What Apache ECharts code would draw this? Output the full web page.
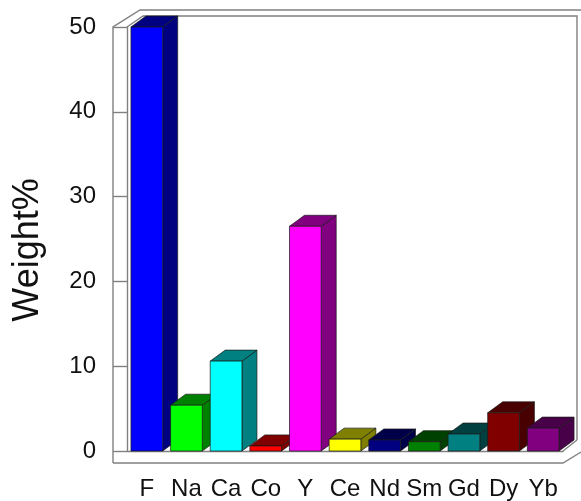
<!DOCTYPE html>
<html>
<head>
<meta charset="utf-8">
<script src="https://cdn.jsdelivr.net/npm/echarts@6/dist/echarts.min.js"></script>
<style>
  html, body { margin: 0; padding: 0; background: #fff; }
  #main { width: 581px; height: 501px; }
</style>
</head>
<body>
<div id="main"></div>
<script>
// data
var elements = ['F', 'Na', 'Ca', 'Co', 'Y', 'Ce', 'Nd', 'Sm', 'Gd', 'Dy', 'Yb'];
var weightPct = [50, 5.4, 10.6, 0.6, 26.5, 1.4, 1.3, 1.1, 2.0, 4.5, 2.7];
var yTicks = [0, 10, 20, 30, 40, 50];

// excel-like 3d palette (front face / side+top)
var frontColors = ['#0000ff', '#00ff00', '#00ffff', '#ff0000', '#ff00ff', '#ffff00',
  '#000080', '#008000', '#008080', '#800000', '#800080'];
var sideColors = ['#000080', '#008000', '#008080', '#800000', '#800080', '#808000',
  '#000048', '#004000', '#004040', '#480000', '#480048'];

var GL = 127, GR = 563, GT = 27, GB = 451;   // plot box
var DX = 15, DY = -11;                       // bar depth
var FRAME = '#808080';

var chartDom = document.getElementById('main');
var myChart = echarts.init(chartDom);
var option;

function renderBar(params, api) {
  var idx = api.value(0);
  var top = api.coord([idx, api.value(1)]);
  var base = api.coord([idx, 0]);
  var w = api.size([1, 0])[0] * 0.8;
  var x0 = top[0] - w / 2, x1 = top[0] + w / 2;
  var yt = top[1], yb = base[1];
  var edge = { stroke: '#1a1a1a', lineWidth: 0.7 };
  return {
    type: 'group',
    children: [
      {
        type: 'polygon',
        shape: { points: [[x1, yb], [x1, yt], [x1 + DX, yt + DY], [x1 + DX, yb + DY]] },
        style: Object.assign({ fill: sideColors[idx] }, edge)
      },
      {
        type: 'polygon',
        shape: { points: [[x0, yt], [x0 + DX, yt + DY], [x1 + DX, yt + DY], [x1, yt]] },
        style: Object.assign({ fill: sideColors[idx] }, edge)
      },
      {
        type: 'rect',
        shape: { x: x0, y: yt, width: w, height: yb - yt },
        style: Object.assign({ fill: frontColors[idx] }, edge)
      }
    ]
  };
}

function line(points) {
  return {
    type: 'polyline',
    shape: { points: points },
    style: { stroke: FRAME, lineWidth: 1.4, fill: null }
  };
}

option = {
  animation: false,
  backgroundColor: '#fff',
  grid: { left: GL, right: 581 - GR, top: GT, bottom: 501 - GB },
  xAxis: {
    type: 'category',
    data: elements,
    axisLine: { lineStyle: { color: FRAME, width: 1.4 } },
    axisTick: {
      length: 12,
      interval: function (i) { return i !== 0; },
      lineStyle: { color: FRAME, width: 1.4 }
    },
    axisLabel: {
      interval: 0,
      margin: 26,
      color: '#111',
      fontFamily: 'Liberation Sans',
      fontSize: 24
    }
  },
  yAxis: {
    type: 'value',
    min: yTicks[0],
    max: yTicks[yTicks.length - 1],
    interval: 10,
    splitLine: { show: false },
    axisLine: { show: true, lineStyle: { color: FRAME, width: 1.4 } },
    axisTick: { show: true, length: 14, lineStyle: { color: FRAME, width: 1.4 } },
    axisLabel: {
      margin: 31,
      color: '#111',
      fontFamily: 'Liberation Sans',
      fontSize: 24
    }
  },
  graphic: [
    line([[GL - 14, GB + 12], [GL - 14, GT], [GL + 13, GT - 17], [581, GT - 17]]),
    line([[GL, GT], [GL + 16, GT - 11], [GR + 14, GT - 11], [GR + 14, GB - 11]]),
    line([[GL - 14, GB + 12], [GR, GB + 12], [GR + 18, GB + 1]]),
    line([[GR, GB], [GR + 14, GB - 11]]),
    {
      type: 'text',
      x: 28,
      y: 250,
      rotation: Math.PI / 2,
      style: {
        text: 'Weight%',
        font: '36px "Liberation Sans"',
        fill: '#111',
        align: 'center',
        verticalAlign: 'middle'
      }
    }
  ],
  series: [
    {
      type: 'custom',
      renderItem: renderBar,
      data: weightPct.map(function (v, i) { return [i, v]; }),
      encode: { x: 0, y: 1 },
      z: 5
    }
  ]
};

option && myChart.setOption(option);
</script>
</body>
</html>
